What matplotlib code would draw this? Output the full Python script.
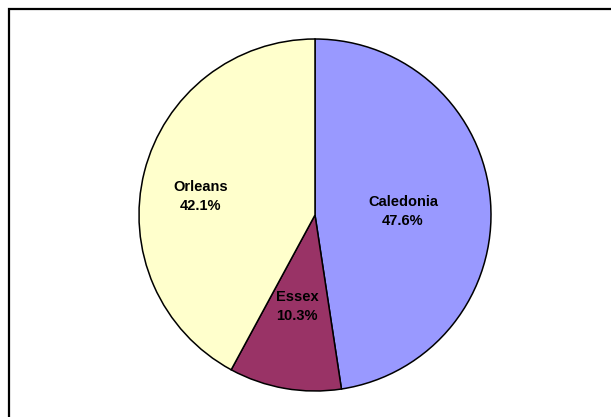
import matplotlib.pyplot as plt
from matplotlib.patches import Rectangle
import numpy as np

labels = ["Caledonia", "Essex", "Orleans"]
shares = [47.6, 10.3, 42.1]
colors = ["#9999FF", "#993366", "#FFFFCC"]
# label placement: distance from centre (fraction of radius) and a nudge off the mid-angle
label_r = [0.50, 0.53, 0.66]
label_nudge = [-2.0, -1.0, 5.0]

plt.rcParams['font.family'] = ['Liberation Sans Narrow', 'Liberation Sans', 'DejaVu Sans']

fig = plt.figure(figsize=(6.11, 4.17), dpi=100)

# chart frame, runs off the right and bottom edges
fig.patches.append(Rectangle((8.5 / 611, -0.05), 1.1, (417 - 8.5) / 417 + 0.05,
                             transform=fig.transFigure, fill=False,
                             edgecolor="black", linewidth=1.6, clip_on=False))

ax = fig.add_axes([139 / 611, 26 / 417, 352 / 611, 352 / 417])
wedges, _ = ax.pie(shares, colors=colors, startangle=90, counterclock=False,
                   wedgeprops=dict(edgecolor="black", linewidth=1.1))

for w, name, val, r, nd in zip(wedges, labels, shares, label_r, label_nudge):
    mid = np.deg2rad((w.theta1 + w.theta2) / 2 + nd)
    ax.text(r * np.cos(mid), r * np.sin(mid), f"{name}\n{val:.1f}%",
            ha="center", va="center", fontsize=10.5, fontweight="bold",
            linespacing=1.5)

ax.set_xlim(-1, 1)
ax.set_ylim(-1, 1)
ax.set_aspect("equal")

fig.savefig("out.png", dpi=100)
